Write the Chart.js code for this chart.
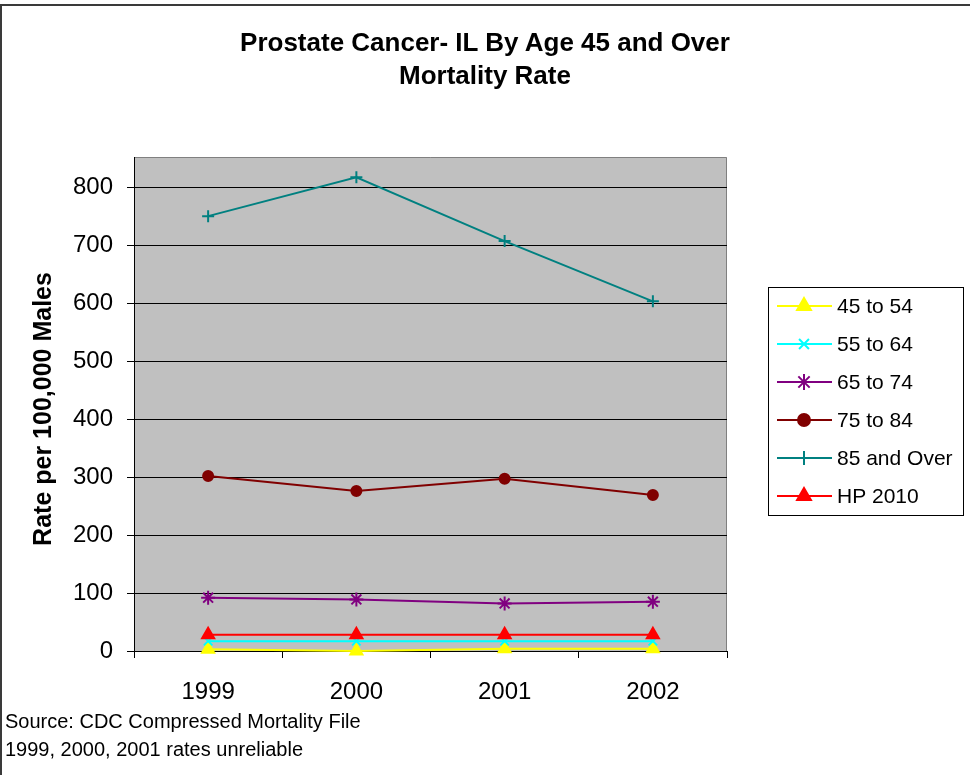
<!DOCTYPE html>
<html>
<head>
<meta charset="utf-8">
<title>Prostate Cancer- IL By Age 45 and Over</title>
<script src="https://cdn.jsdelivr.net/npm/chart.js@4/dist/chart.umd.min.js"></script>
<style>
  body { margin: 0; background: #fff; font-family: Arial, "Liberation Sans", sans-serif; }
  #wrap { position: relative; width: 970px; height: 775px; overflow: hidden; }
  #frame { position: absolute; left: 0; top: 4px; width: 1100px; height: 1100px; border: 2px solid #3a3a3a; box-sizing: border-box; }
  #chart { position: absolute; left: 0; top: 0; }
  .title { position: absolute; left: 0; width: 970px; text-align: center; font-weight: bold; font-size: 26px; line-height: 33px; }
  .note { position: absolute; left: 5px; font-size: 20px; line-height: 28px; }
</style>
</head>
<body>
<div id="wrap">
  <div id="frame"></div>
  <canvas id="chart" width="970" height="775"></canvas>
  <div class="title" style="top:26px">Prostate Cancer- IL By Age 45 and Over<br>Mortality Rate</div>
  <div class="note" style="top:707px">Source: CDC Compressed Mortality File<br>1999, 2000, 2001 rates unreliable</div>
</div>
<script>
// Data
const years = ['1999', '2000', '2001', '2002'];
const seriesNames = ['45 to 54', '55 to 64', '65 to 74', '75 to 84', '85 and Over', 'HP 2010'];
const age45to54 = [3, 0, 4, 4];
const age55to64 = [17, 17, 17, 17];
const age65to74 = [92, 89, 82, 85];
const age75to84 = [302, 276, 297, 269];
const age85over = [750, 817, 707, 603];
const hp2010 = [28, 28, 28, 28];
const yTicks = [0, 100, 200, 300, 400, 500, 600, 700, 800];
const yMax = 852;

const seriesValues = [age45to54, age55to64, age65to74, age75to84, age85over, hp2010];

// Excel-like line / marker styles
const seriesStyles = [
    { color: '#FFFF00', pointStyle: 'triangle', radius: 7 },
    { color: '#00FFFF', pointStyle: 'crossRot', radius: 6 },
    { color: '#800080', pointStyle: 'star', radius: 7 },
    { color: '#800000', pointStyle: 'circle', radius: 5 },
    { color: '#008080', pointStyle: 'cross', radius: 6 },
    { color: '#FF0000', pointStyle: 'triangle', radius: 7 }
];

const datasets = seriesNames.map((name, i) => ({
    label: name,
    data: seriesValues[i],
    borderColor: seriesStyles[i].color,
    backgroundColor: seriesStyles[i].color,
    borderWidth: 2,
    pointStyle: seriesStyles[i].pointStyle,
    pointRadius: seriesStyles[i].radius,
    pointBorderWidth: 2,
    pointBorderColor: seriesStyles[i].color,
    pointBackgroundColor: seriesStyles[i].color,
    tension: 0,
    clip: false,
    order: seriesNames.length - i
}));

/**
 * Gray plot area, its border, the rotated y title and the boxed legend
 */
const excelLook = {
    id: 'excelLook',
    beforeDraw(chart) {
        const { ctx, chartArea: a } = chart;
        ctx.save();
        ctx.fillStyle = '#C0C0C0';
        ctx.fillRect(a.left, a.top, a.right - a.left, a.bottom - a.top);
        ctx.strokeStyle = '#808080';
        ctx.lineWidth = 1;
        ctx.beginPath();
        ctx.moveTo(a.left, a.top + 0.5);
        ctx.lineTo(a.right - 0.5, a.top + 0.5);
        ctx.lineTo(a.right - 0.5, a.bottom);
        ctx.stroke();
        ctx.restore();
    },
    afterDraw(chart) {
        const ctx = chart.ctx;
        ctx.save();

        // y axis title
        ctx.translate(44, 409);
        ctx.rotate(-Math.PI / 2);
        ctx.fillStyle = '#000';
        ctx.font = 'bold 25px Arial, "Liberation Sans", sans-serif';
        ctx.textAlign = 'center';
        ctx.textBaseline = 'middle';
        ctx.fillText('Rate per 100,000 Males', 0, 0);
        ctx.setTransform(1, 0, 0, 1, 0, 0);

        // legend
        ctx.fillStyle = '#fff';
        ctx.fillRect(768, 287, 195, 228);
        ctx.strokeStyle = '#000';
        ctx.lineWidth = 1;
        ctx.strokeRect(768.5, 287.5, 195, 228);

        ctx.font = '21px Arial, "Liberation Sans", sans-serif';
        ctx.textAlign = 'left';
        ctx.textBaseline = 'middle';
        chart.data.datasets.forEach((ds, i) => {
            const y = 306 + i * 38;
            ctx.strokeStyle = ds.borderColor;
            ctx.fillStyle = ds.borderColor;
            ctx.lineWidth = 2;
            ctx.beginPath();
            ctx.moveTo(777, y);
            ctx.lineTo(832, y);
            ctx.stroke();
            Chart.helpers.drawPoint(ctx, {
                pointStyle: ds.pointStyle,
                radius: ds.pointRadius + 1,
                rotation: 0,
                borderWidth: 2
            }, 804, y);
            ctx.fillStyle = '#000';
            ctx.fillText(ds.label, 837, y + 1);
        });
        ctx.restore();
    }
};

new Chart(document.getElementById('chart'), {
    type: 'line',
    data: { labels: years, datasets: datasets },
    plugins: [excelLook],
    options: {
        responsive: false,
        animation: false,
        layout: { padding: { top: 157, right: 243, left: 0, bottom: 0 } },
        plugins: {
            legend: { display: false },
            title: { display: false },
            tooltip: { enabled: false }
        },
        scales: {
            x: {
                offset: true,
                afterFit: s => { s.height = 124; },
                border: { color: '#000', width: 1 },
                grid: {
                    offset: true,
                    drawOnChartArea: false,
                    color: '#000',
                    tickLength: 7
                },
                ticks: {
                    color: '#000',
                    padding: 20,
                    font: { size: 24, family: 'Arial, "Liberation Sans", sans-serif' }
                }
            },
            y: {
                min: 0,
                max: yMax,
                afterFit: s => { s.width = 134; },
                afterBuildTicks: s => { s.ticks = yTicks.map(v => ({ value: v })); },
                border: { color: '#000', width: 1 },
                grid: { color: '#000', tickLength: 7 },
                ticks: {
                    color: '#000',
                    padding: 14,
                    font: { size: 24, family: 'Arial, "Liberation Sans", sans-serif' }
                }
            }
        }
    }
});
</script>
</body>
</html>
